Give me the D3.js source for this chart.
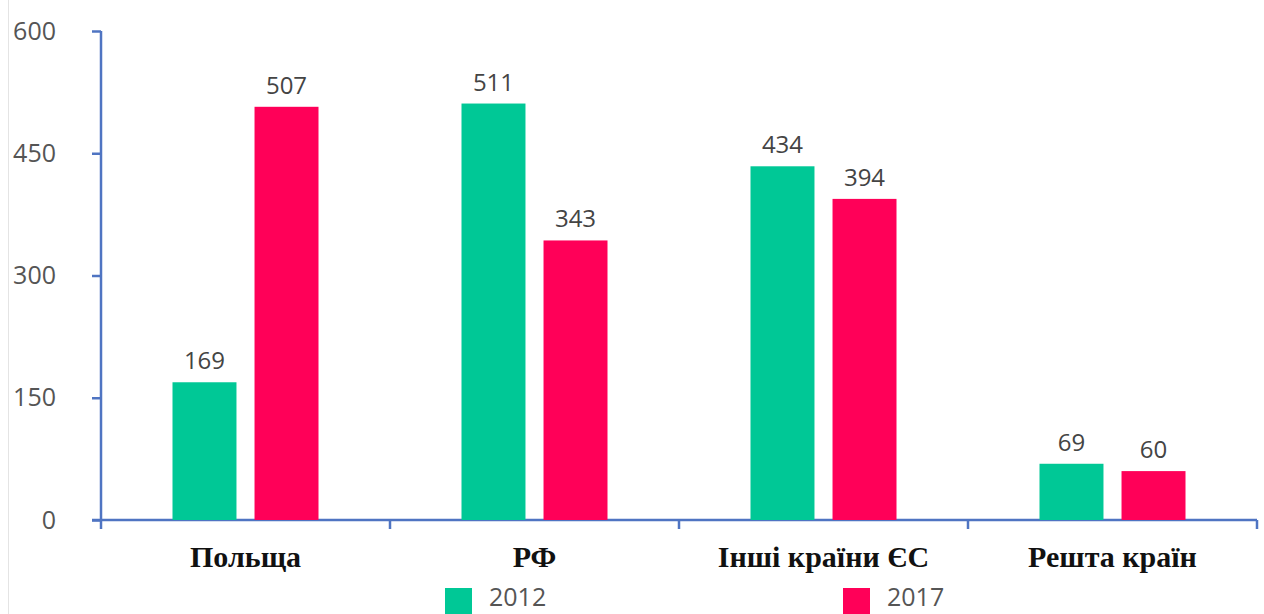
<!DOCTYPE html>
<html>
<head>
<meta charset="utf-8">
<script src="https://cdn.jsdelivr.net/npm/d3@7"></script>
<style>
  html, body { margin: 0; padding: 0; background: #fff; }
  svg { display: block; }
</style>
</head>
<body>
<svg id="chart" width="1264" height="614"></svg>
<script>
// Categories, series and ticks
const categories = ["Польща", "РФ", "Інші країни ЄС", "Решта країн"];
const seriesNames = ["2012", "2017"];
const values2012 = [169, 511, 434, 69];
const values2017 = [507, 343, 394, 60];
const yTicks = [0, 150, 300, 450, 600];
const colors = ["#00C896", "#FF0058"];

(function () {
const svg = d3.select("#chart");
const W = 1264, H = 614;
const mLeft = 101, mRight = 1257, mTop = 31, mBottom = 520;

const x = d3.scaleBand().domain(categories).range([mLeft, mRight]).paddingInner(0).paddingOuter(0);
const groupInner = d3.scaleBand().domain(seriesNames).range([0, 146]).paddingInner(0.22);
const y = d3.scaleLinear().domain([0, 600]).range([mBottom, mTop]);

const axisColor = "#4F74C2";
const numFont = "'Open Sans', 'Noto Sans', sans-serif";

// faint frame line on the left edge
svg.append("line").attr("x1", 8.5).attr("x2", 8.5).attr("y1", 0).attr("y2", H)
  .attr("stroke", "#e4e4e4").attr("stroke-width", 1);

// Y axis
const yAxis = svg.append("g").attr("transform", `translate(${mLeft},0)`)
  .call(d3.axisLeft(y).tickValues(yTicks).tickSize(9).tickPadding(36).tickFormat(d3.format("d")));
yAxis.select(".domain").attr("stroke", axisColor).attr("stroke-width", 2.5)
  .attr("d", `M0,${mTop}V${mBottom}`);
yAxis.selectAll(".tick line").attr("stroke", axisColor).attr("stroke-width", 2.5);
yAxis.selectAll(".tick text").attr("fill", "#555").attr("font-family", numFont)
  .attr("font-size", 25).attr("dy", "0.32em");

// X axis
const xAxis = svg.append("g").attr("transform", `translate(0,${mBottom})`)
  .call(d3.axisBottom(x).tickValues([]).tickSizeOuter(0));
xAxis.select(".domain").attr("stroke", axisColor).attr("stroke-width", 2.5)
  .attr("d", `M${mLeft - 9},0H${mRight}`);
// ticks at category boundaries
const boundaries = categories.map(c => x(c)).concat([mRight]);
xAxis.selectAll(".bnd").data(boundaries).enter().append("line")
  .attr("x1", d => d).attr("x2", d => d).attr("y1", 0).attr("y2", 9)
  .attr("stroke", axisColor).attr("stroke-width", 2.5);

// Category labels
svg.append("g").selectAll("text").data(categories).enter().append("text")
  .attr("x", d => x(d) + x.bandwidth() / 2)
  .attr("y", 567)
  .attr("text-anchor", "middle")
  .attr("font-family", "'Liberation Serif', 'Times New Roman', serif")
  .attr("font-weight", "bold")
  .attr("font-size", 30)
  .attr("fill", "#111")
  .text(d => d);

// Bars
const series = [values2012, values2017];
const groupOffset = (x.bandwidth() - 146) / 2;
series.forEach((vals, si) => {
  const g = svg.append("g");
  const data = categories.map((c, i) => ({ c, v: vals[i] }));
  g.selectAll("rect").data(data).enter().append("rect")
    .attr("x", d => x(d.c) + groupOffset + groupInner(seriesNames[si]))
    .attr("width", groupInner.bandwidth())
    .attr("y", d => y(d.v))
    .attr("height", d => y(0) - y(d.v))
    .attr("fill", colors[si]);
  g.selectAll("text").data(data).enter().append("text")
    .attr("x", d => x(d.c) + groupOffset + groupInner(seriesNames[si]) + groupInner.bandwidth() / 2)
    .attr("y", d => y(d.v) - 13)
    .attr("text-anchor", "middle")
    .attr("font-family", numFont)
    .attr("font-size", 24)
    .attr("fill", "#444")
    .text(d => d.v);
});

// Legend
const legendX = [445, 843];
seriesNames.forEach((s, i) => {
  svg.append("rect").attr("x", legendX[i]).attr("y", 588).attr("width", 27).attr("height", 26)
    .attr("fill", colors[i]);
  svg.append("text").attr("x", legendX[i] + 44).attr("y", 606)
    .attr("font-family", numFont).attr("font-size", 25).attr("fill", "#555")
    .text(s);
});
})();
</script>
</body>
</html>
